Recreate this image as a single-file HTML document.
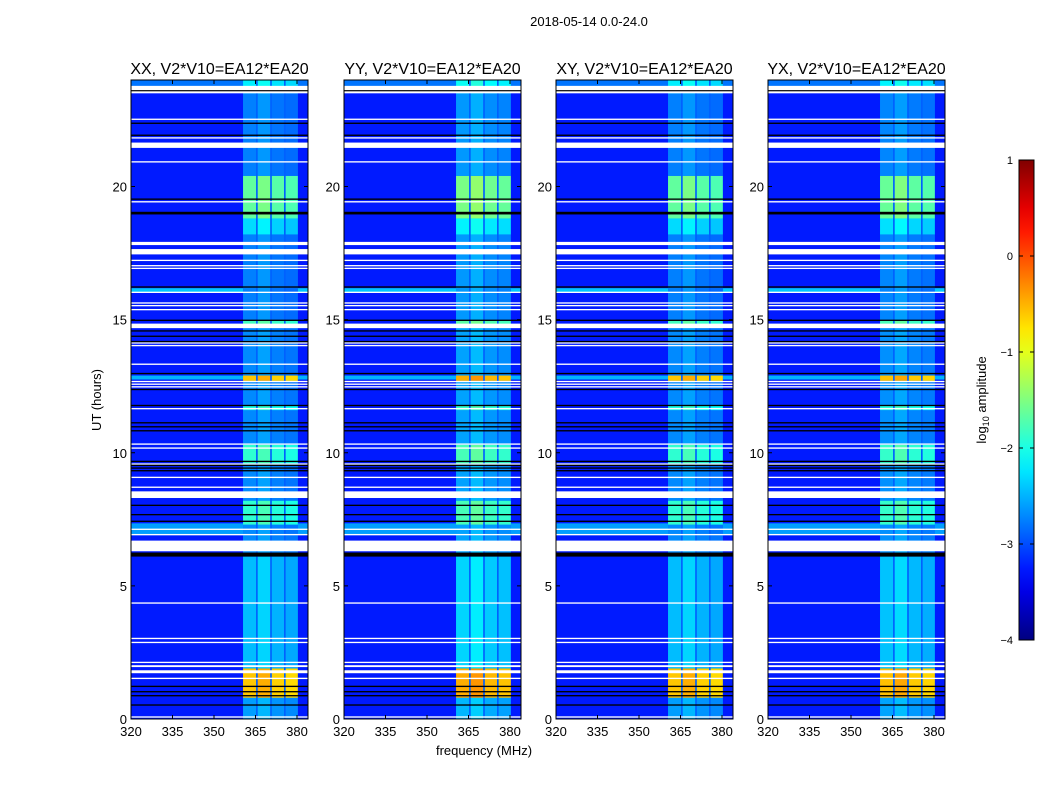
<!DOCTYPE html>
<html><head><meta charset="utf-8">
<style>
body{margin:0;background:#fff;width:1050px;height:800px;overflow:hidden;font-family:"Liberation Sans",sans-serif}
svg text{font-family:"Liberation Sans","DejaVu Sans",sans-serif;fill:#000}
</style></head>
<body>
<svg id="fig" width="1050" height="800" xmlns="http://www.w3.org/2000/svg">
<text x="589" y="26" font-size="13" text-anchor="middle">2018-05-14 0.0-24.0</text>
<text x="484" y="755" font-size="13" text-anchor="middle">frequency (MHz)</text>
<text x="0" y="0" font-size="13" text-anchor="middle" transform="translate(101,400) rotate(-90)">UT (hours)</text>
<g id="panels"></g>
<g id="cbar"></g>
</svg>
<script>
// ---- data ----
const panelTitles = ["XX, V2*V10=EA12*EA20","YY, V2*V10=EA12*EA20","XY, V2*V10=EA12*EA20","YX, V2*V10=EA12*EA20"];
const panelGain = [0, 0.12, 0, 0.03];
const xTicks = [320,335,350,365,380];
const yTicks = [0,5,10,15,20];
const cbTicks = [1,0,-1,-2,-3,-4];
const backgroundLevel = -3.25;
const rfiBands = [[360.5,365.2],[365.8,370.3],[370.9,375.3],[375.9,380.3]];
const gapLevel = -2.9;
const rfiSegments = [
 [0,0.8,-2.6],[0.8,1.9,-0.6],[1.9,6.1,-2.45],[6.1,7.3,-2.7],[7.3,8.2,-1.9],[8.2,9.6,-2.7],
 [9.6,10.3,-1.9],[10.3,11.6,-2.7],[11.6,11.8,-2.0],[11.8,12.7,-2.7],[12.7,12.9,-0.6],[12.9,14.7,-2.7],
 [14.7,14.95,-1.8],[14.95,18.2,-2.75],[18.2,18.8,-2.3],[18.8,20.4,-1.65],[20.4,23.5,-2.75],[23.5,24,-2.2]
];
const bandGain = [0, 0.12, -0.05, -0.1];
const rowBands = [[16.02,16.18,-2.4],[12.75,12.9,-2.5],[6.9,7.35,-2.6],[23.7,24,-2.8]];
const whiteRows = [[0.05,0.1],[1.5,1.55],[1.72,1.83],[1.95,2.02],[2.1,2.15],[2.85,2.9],[3.0,3.05],[4.33,4.38],
 [6.3,6.7],[6.9,6.95],[7.1,7.15],[8.3,8.55],[8.68,8.73],[9.05,9.1],[9.55,9.6],[10.15,10.2],[10.3,10.35],[11.63,11.68],
 [12.45,12.5],[12.55,12.6],[12.65,12.7],[13.3,13.35],[14.0,14.05],[14.1,14.15],[14.68,14.85],[15.35,15.4],[15.5,15.55],[15.6,15.65],
 [16.0,16.05],[16.9,16.95],[17.0,17.05],[17.2,17.25],[17.45,17.65],[17.8,17.92],[19.4,19.45],[20.9,20.95],[21.45,21.65],[21.8,21.85],[22.5,22.55],[23.5,23.78]];
const blackRows = [[0.5,0.55],[0.85,0.9],[1.0,1.05],[1.2,1.25],[6.1,6.25],[7.4,7.45],[7.65,7.7],[8.0,8.05],
 [9.3,9.35],[9.4,9.45],[9.5,9.55],[9.65,9.7],[10.8,10.85],[10.95,11.0],[11.1,11.15],[11.75,11.8],[12.35,12.4],[12.95,13.0],
 [14.15,14.2],[14.35,14.4],[14.55,14.6],[14.95,15.0],[16.2,16.25],[18.95,19.05],[19.5,19.55],[21.9,21.95],[22.35,22.4],[23.6,23.62]];

// ---- helpers ----
const NS="http://www.w3.org/2000/svg";
function jet(l){const v=Math.max(0,Math.min(1,(l+4)/5));const c=x=>Math.round(255*Math.max(0,Math.min(1,1.5-Math.abs(x))));
 return `rgb(${c(4*v-3)},${c(4*v-2)},${c(4*v-1)})`;}
function mk(tag,attrs,parent){const e=document.createElementNS(NS,tag);for(const k in attrs)e.setAttribute(k,attrs[k]);parent.appendChild(e);return e;}
const panelX=[131,344,556,768], PW=177, PT=80, PB=719;
const fPerPx=60/166;
const panels=document.getElementById('panels');

panelX.forEach((x0,p)=>{
 const xs=f=>x0+(f-320)/fPerPx;
 const ys=t=>PB-t*(PB-PT)/24;
 const g=mk('g',{},panels);
 
 
 const bg=mk('rect',{x:x0,y:PT,width:PW,height:PB-PT,fill:jet(backgroundLevel)},g);
 
 
 rowBands.forEach(r=>{const e=mk('rect',{x:x0,y:ys(r[1]),width:PW,height:ys(r[0])-ys(r[1]),fill:jet(r[2])},g);
  
  });
 const gp=mk('rect',{x:xs(rfiBands[0][0]),y:PT,width:xs(rfiBands[3][1])-xs(rfiBands[0][0]),height:PB-PT,fill:jet(gapLevel)},g);
 
 
 rfiSegments.forEach(s=>{rfiBands.forEach((b,bi)=>{
  const e=mk('rect',{x:xs(b[0]),y:ys(s[1]),width:xs(b[1])-xs(b[0]),height:ys(s[0])-ys(s[1]),fill:jet(s[2]+panelGain[p]+bandGain[bi])},g);
  
  });});
 whiteRows.forEach(r=>{const e=mk('rect',{x:x0,y:ys(r[1]),width:PW,height:Math.max(1.2,ys(r[0])-ys(r[1])),fill:'#fff'},g);
  
  });
 blackRows.forEach(r=>{const e=mk('rect',{x:x0,y:ys(r[1]),width:PW,height:Math.max(1.2,ys(r[0])-ys(r[1])),fill:'#000'},g);
  
  });
 const fr=mk('rect',{x:x0,y:PT,width:PW,height:PB-PT,fill:'none',stroke:'#000','stroke-width':1},g);
 
 
 const t=mk('text',{x:x0+PW/2,y:74,'font-size':16,'text-anchor':'middle'},g);t.textContent=panelTitles[p];
 
 
 xTicks.forEach(f=>{const X=xs(f);
  mk('line',{x1:X,x2:X,y1:PB,y2:PB-4,stroke:'#000'},g);mk('line',{x1:X,x2:X,y1:PT,y2:PT+4,stroke:'#000'},g);
  const l=mk('text',{x:X,y:PB+17,'font-size':13,'text-anchor':'middle'},g);l.textContent=f;
  
  });
 yTicks.forEach(v=>{const Y=ys(v);
  mk('line',{x1:x0,x2:x0+4,y1:Y,y2:Y,stroke:'#000'},g);mk('line',{x1:x0+PW,x2:x0+PW-4,y1:Y,y2:Y,stroke:'#000'},g);
  const l=mk('text',{x:x0-4,y:Y+5,'font-size':13,'text-anchor':'end'},g);l.textContent=v;
  
  });
});

// colorbar
const cb=document.getElementById('cbar');
const CBX=1019,CBW=15,CBT=160,CBB=640;
const defs=mk('defs',{},cb);
const grad=mk('linearGradient',{id:'jetg',x1:0,y1:1,x2:0,y2:0},defs);
for(let i=0;i<=20;i++){mk('stop',{offset:i/20,'stop-color':jet(-4+5*i/20)},grad);}
const cr=mk('rect',{x:CBX,y:CBT,width:CBW,height:CBB-CBT,fill:'url(#jetg)',stroke:'#000'},cb);


const cys=l=>CBB-(l+4)/5*(CBB-CBT);
cbTicks.forEach(l=>{const Y=cys(l);
 mk('line',{x1:CBX,x2:CBX+4,y1:Y,y2:Y,stroke:'#000'},cb);mk('line',{x1:CBX+CBW,x2:CBX+CBW-4,y1:Y,y2:Y,stroke:'#000'},cb);
 const t=mk('text',{x:1013,y:Y+4,'font-size':11,'text-anchor':'end'},cb);t.textContent=(l<0?'\u2212'+(-l):l);
 
 });
const ct=mk('text',{'font-size':13,'text-anchor':'middle',transform:'translate(986,400) rotate(-90)'},cb);
ct.innerHTML='log<tspan font-size="9" dy="3">10</tspan><tspan dy="-3"> amplitude</tspan>';


</script>
</body></html>
